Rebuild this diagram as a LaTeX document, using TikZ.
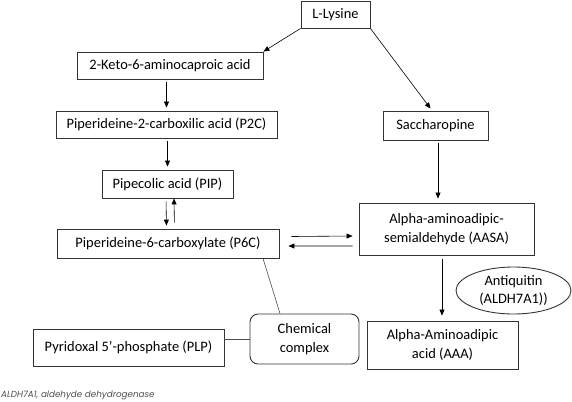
\documentclass[tikz,border=0pt]{standalone}
\usepackage{fontspec}
\setmainfont{Carlito}
\newfontfamily\notefont{Poppins}
\usetikzlibrary{arrows.meta,shapes.geometric}

\begin{document}
\begin{tikzpicture}[x=1bp, y=-1bp, font=\fontsize{14.5}{19}\selectfont,
  block/.style={draw=black!80, line width=0.9pt, inner sep=0pt, align=center},
  roundblock/.style={block, rounded corners=8bp},
  oval/.style={draw=black!80, line width=0.9pt, ellipse, inner sep=0pt, align=center},
  arr/.style={->, >={Triangle[length=6bp,width=5bp]}, line width=0.6pt},
  link/.style={draw=black!70, line width=0.6pt}]

  \useasboundingbox (0,0) rectangle (572,401);

  % Top
  \node[block, minimum width=69bp, minimum height=27bp] (lys) at (335.5,14.5) {L-Lysine};

  % Left column
  \node[block, minimum width=186bp, minimum height=27bp] (keto) at (170,65.5) {2-Keto-6-aminocaproic acid};
  \node[block, minimum width=221bp, minimum height=27bp] (p2c) at (166.5,124.5) {Piperideine-2-carboxilic acid (P2C)};
  \node[block, minimum width=131bp, minimum height=28bp] (pip) at (167.5,184) {Pipecolic acid (PIP)};
  \node[block, minimum width=222bp, minimum height=29bp] (p6c) at (168,243.5) {Piperideine-6-carboxylate (P6C)};
  \node[block, minimum width=191bp, minimum height=37bp] (plp) at (128.5,347.5) {Pyridoxal 5’-phosphate (PLP)};
  \node[roundblock, minimum width=109bp, minimum height=50bp] (chem) at (304.5,339) {Chemical\\complex};

  % Right column
  \node[block, minimum width=105bp, minimum height=29bp] (sac) at (435.5,125.5) {Saccharopine};
  \node[block, minimum width=175bp, minimum height=52bp] (aasa) at (446.5,229) {Alpha-aminoadipic-\\semialdehyde (AASA)};
  \node[block, minimum width=151bp, minimum height=48bp] (aaa) at (442.5,345) {Alpha-Aminoadipic\\acid (AAA)};
  \node[oval, minimum width=115bp, minimum height=47bp] (anti) at (513.5,290.5) {Antiquitin\\(ALDH7A1))};

  % Note
  \node[anchor=west, inner sep=0pt, text=black!70] (note) at (1,395.5)
    {\notefont\itshape\fontsize{8.8}{10}\selectfont ALDH7A1, aldehyde dehydrogenase};

  % Arrows from lysine
  \draw[arr] (lys.south west) -- (keto.north east);
  \draw[arr] (lys.south east) -- ([xshift=-5bp, yshift=2bp]sac.north);

  % Left chain
  \draw[arr, shorten <=3bp, shorten >=3bp] (keto.south -| p2c.north) -- (p2c.north);
  \draw[arr, shorten <=3bp, shorten >=3bp] (p2c.south -| pip.north) -- (pip.north);
  \draw[arr, shorten <=3bp, shorten >=3bp] ([xshift=-1.5bp]pip.south) -- ([xshift=-1.5bp]p6c.north);
  \draw[arr, shorten >=0bp, shorten <=6bp] ([xshift=6.5bp]p6c.north) -- ([xshift=6.5bp]pip.south);

  % Right chain
  \draw[arr, shorten <=3bp, shorten >=4bp] ([xshift=2.5bp]sac.south) -- ([xshift=2.5bp]sac.south |- aasa.north);
  \draw[arr, shorten <=4bp, shorten >=5bp] ([xshift=-4.5bp]aasa.south) -- ([xshift=-4.5bp]aasa.south |- aaa.north);

  % Exchange between P6C and AASA
  \draw[arr] ([xshift=12bp, yshift=7bp]p6c.east) -- ([xshift=-6bp, yshift=-7bp]aasa.west);
  \draw[arr] ([xshift=-6bp, yshift=-17bp]aasa.west) -- ([xshift=9bp, yshift=-2.5bp]p6c.east);

  % Complex links
  \draw[link] ([xshift=95bp]p6c.south) -- ([xshift=-24.5bp]chem.north);
  \draw[link] (plp.east |- chem.west) -- (chem.west);

\end{tikzpicture}
\end{document}
